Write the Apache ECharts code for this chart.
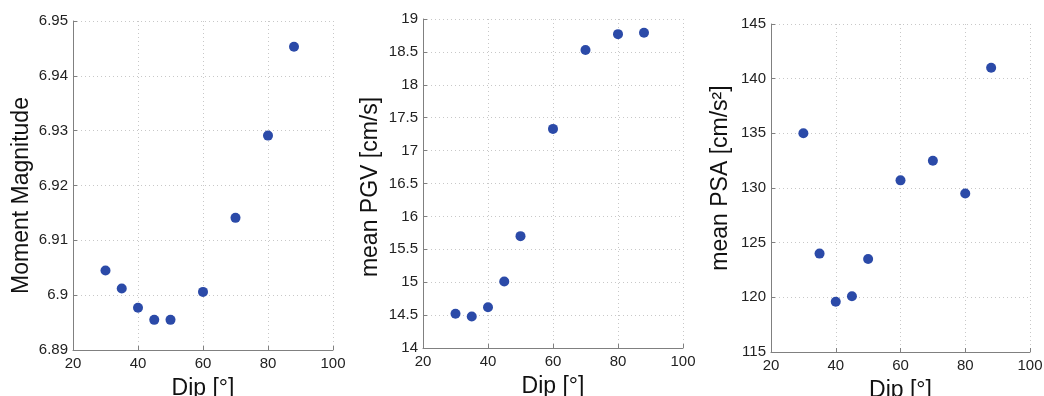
<!DOCTYPE html>
<html>
<head>
<meta charset="utf-8">
<script src="https://cdn.jsdelivr.net/npm/echarts@6/dist/echarts.min.js"></script>
<style>
html,body{margin:0;padding:0;background:#fff;}
#c{width:1044px;height:396px;}
</style>
</head>
<body>
<div id="c"></div>
<script>
const dips = [30, 35, 40, 45, 50, 60, 70, 80, 88];
const magnitude = [6.9045, 6.9012, 6.8977, 6.8955, 6.8955, 6.9006, 6.9141, 6.9291, 6.9453];
const pgv = [14.52, 14.48, 14.62, 15.01, 15.70, 17.33, 18.53, 18.77, 18.79];
const psa = [135.0, 124.0, 119.6, 120.1, 123.5, 130.7, 132.5, 129.5, 141.0];

const xTitle = 'Dip [°]';
const yTitles = ['Moment Magnitude', 'mean PGV [cm/s]', 'mean PSA [cm/s²]'];
const yRanges = [[6.89, 6.95, 0.01], [14, 19, 0.5], [115, 145, 5]];
const xRange = [20, 100, 20];

const FONT = 'Liberation Sans, Arial, Helvetica, sans-serif';
const grids = [
  {left: 73, top: 21, width: 260, height: 329, outerBoundsMode: 'none', containLabel: false},
  {left: 423, top: 19, width: 260, height: 329, outerBoundsMode: 'none', containLabel: false},
  {left: 771, top: 24, width: 259, height: 328, outerBoundsMode: 'none', containLabel: false}
];
const nameGaps = [40, 41, 39];
const namePads = [[0, 20, 0, 0], [0, 7, 0, 0], [0, 0, 0, 20]];

const axisCommon = {
  axisLine: {show: true, lineStyle: {color: '#808080', width: 1}},
  axisTick: {show: true, inside: true, length: 4, lineStyle: {color: '#808080'}},
  splitLine: {show: true, lineStyle: {color: '#c8c8c8', type: [1, 3], width: 1}},
  axisLabel: {color: '#222', fontSize: 15, fontFamily: FONT}
};

const xAxis = grids.map((g, i) => Object.assign({}, axisCommon, {
  type: 'value', gridIndex: i, min: xRange[0], max: xRange[1], interval: xRange[2],
  name: xTitle, nameLocation: 'middle', nameGap: 27,
  nameTextStyle: {fontSize: 23, color: '#111', fontFamily: FONT},
  axisLabel: Object.assign({}, axisCommon.axisLabel, {margin: 6})
}));

const yAxis = grids.map((g, i) => Object.assign({}, axisCommon, {
  type: 'value', gridIndex: i, min: yRanges[i][0], max: yRanges[i][1], interval: yRanges[i][2],
  name: yTitles[i], nameLocation: 'middle', nameGap: nameGaps[i], nameRotate: 90,
  nameTextStyle: {fontSize: 23, color: '#111', fontFamily: FONT, padding: namePads[i]},
  axisLabel: Object.assign({}, axisCommon.axisLabel, {margin: 5,
    formatter: v => String(+v.toFixed(3))})
}));

const seriesData = [magnitude, pgv, psa];
const series = seriesData.map((vals, i) => ({
  type: 'scatter', xAxisIndex: i, yAxisIndex: i,
  symbolSize: 10,
  itemStyle: {color: '#2b4aa8', opacity: 1},
  data: dips.map((d, k) => [d, vals[k]])
}));

const chart = echarts.init(document.getElementById('c'), null, {renderer: 'canvas'});
chart.setOption({
  animation: false,
  backgroundColor: '#fff',
  textStyle: {fontFamily: FONT},
  grid: grids,
  xAxis: xAxis,
  yAxis: yAxis,
  series: series
});
</script>
</body>
</html>
